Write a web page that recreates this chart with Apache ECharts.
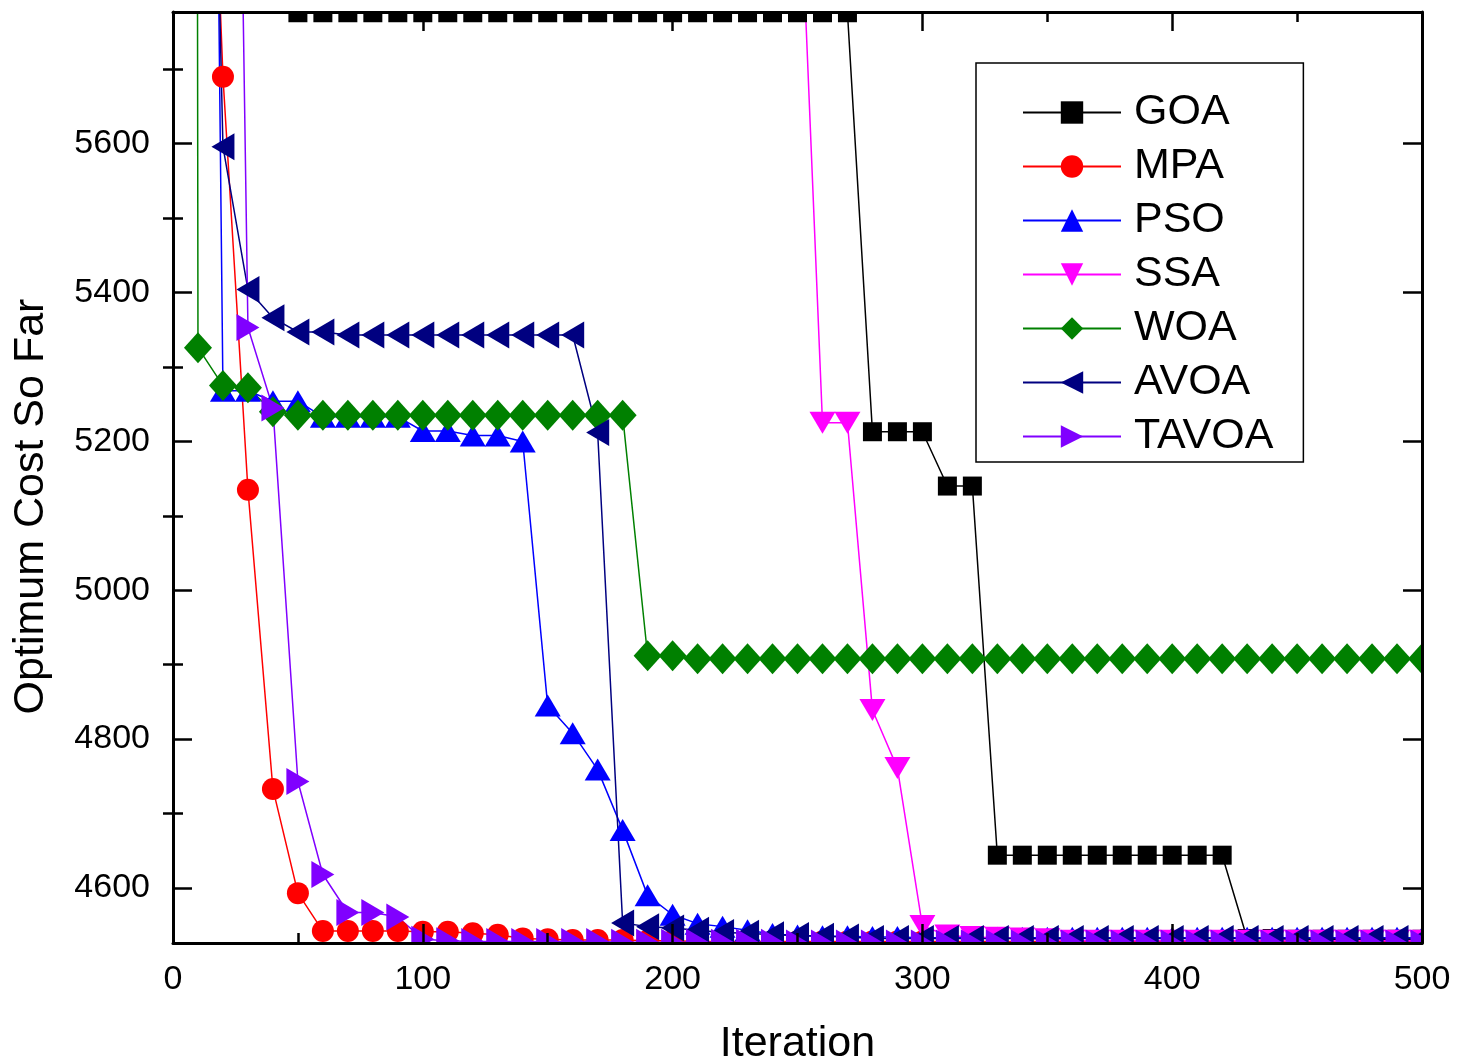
<!DOCTYPE html>
<html>
<head>
<meta charset="utf-8">
<script src="https://cdn.jsdelivr.net/npm/echarts@6/dist/echarts.min.js"></script>
<style>
  html, body { margin: 0; padding: 0; background: #fff; width: 1469px; height: 1064px; overflow: hidden; }
  #chart { width: 1469px; height: 1064px; display: block; }
</style>
</head>
<body>
<div id="chart"></div>
<script>
// Best cost found so far, sampled every 10 iterations ('null' = above the plotted range, not recorded)
const iterations = [0, 10, 20, 30, 40, 50, 60, 70, 80, 90, 100, 110, 120, 130, 140, 150, 160, 170, 180, 190, 200,
  210, 220, 230, 240, 250, 260, 270, 280, 290, 300, 310, 320, 330, 340, 350, 360, 370, 380, 390, 400,
  410, 420, 430, 440, 450, 460, 470, 480, 490, 500];

const goa = [null, null, null, null, null,
  5776, 5776, 5776, 5776, 5776, 5776, 5776, 5776, 5776, 5776, 5776, 5776, 5776, 5776, 5776, 5776, 5776, 5776, 5776, 5776, 5776, 5776, 5776,
  5213, 5213, 5213, 5140, 5140,
  4644, 4644, 4644, 4644, 4644, 4644, 4644, 4644, 4644, 4644,
  4532, 4532, 4531, 4531, 4531, 4531, 4531, 4531];

const mpa = [null, 6560, 5690, 5135, 4733, 4593, 4542, 4542, 4542, 4542, 4541, 4541, 4539, 4537, 4532, 4531, 4530, 4530, 4530, 4529, 4529,
  4528, 4528, 4528, 4528, 4528, 4528, 4528, 4528, 4528, 4528, 4528, 4528, 4528, 4528, 4528, 4528, 4528, 4528, 4528, 4528,
  4528, 4528, 4528, 4528, 4528, 4528, 4528, 4528, 4528, 4528];

const pso = [null, 8400, 5268, 5268, 5254, 5254, 5233, 5233, 5233, 5233, 5214, 5214, 5208, 5208, 5200, 4845, 4808, 4759, 4678, 4590, 4564,
  4552, 4548, 4543, 4538, 4536, 4535, 4535, 4534, 4534, 4533, 4533, 4533, 4533, 4533, 4533, 4533, 4533, 4533, 4533, 4533,
  4533, 4533, 4533, 4533, 4533, 4533, 4533, 4533, 4533, 4533];

const ssa = [null, null, null, null, null, null, null, null, null, null, null, null, null, null, null, null, null, null, null, null, null,
  null, null, null, null, 6040, 5225, 5225, 4839, 4761, 4549, 4536, 4534, 4533, 4532, 4531, 4529, 4529, 4529, 4529, 4529,
  4529, 4529, 4529, 4529, 4529, 4529, 4529, 4529, 4529, 4529];

const woa = [30000, 5326, 5275, 5272, 5240, 5235, 5235, 5235, 5235, 5235, 5235, 5235, 5235, 5235, 5235, 5235, 5235, 5235, 5235, 4912, 4912,
  4908, 4908, 4908, 4908, 4908, 4908, 4908, 4908, 4908, 4908, 4908, 4908, 4908, 4908, 4908, 4908, 4908, 4908, 4908, 4908,
  4908, 4908, 4908, 4908, 4908, 4908, 4908, 4908, 4908, 4908];

const avoa = [null, 7040, 5596, 5404, 5366, 5347, 5347, 5343, 5343, 5343, 5343, 5343, 5343, 5343, 5343, 5343, 5343, 5212, 4553, 4548, 4546,
  4543, 4540, 4539, 4537, 4536, 4535, 4534, 4532, 4532, 4532, 4532, 4532, 4532, 4532, 4532, 4532, 4532, 4532, 4532, 4532,
  4532, 4532, 4532, 4532, 4532, 4532, 4532, 4532, 4532, 4532];

const tavoa = [null, null, 7580, 5353, 5245, 4743, 4618, 4567, 4567, 4561, 4531, 4529, 4528, 4528, 4528, 4528, 4528, 4528, 4527, 4527, 4527,
  4527, 4527, 4527, 4527, 4526, 4526, 4526, 4526, 4526, 4526, 4526, 4526, 4526, 4526, 4526, 4526, 4526, 4526, 4526, 4526,
  4526, 4526, 4526, 4526, 4526, 4526, 4526, 4526, 4526, 4526];

const xTickLabels = [0, 100, 200, 300, 400, 500];
const yTickLabels = [4600, 4800, 5000, 5200, 5400, 5600];
const yMinorTicks = [4700, 4900, 5100, 5300, 5500, 5700];

const FONT = '"Liberation Sans", Arial, sans-serif';
const Y_MIN = 4526, Y_MAX = 5777;

function pairs(values) {
  return iterations.map((it, i) => [it, values[i] == null ? '-' : values[i]]);
}

const seriesDefs = [
  { name: 'GOA',   values: goa,   color: '#000000', symbol: 'rect',     size: [19, 19], rotate: 0 },
  { name: 'MPA',   values: mpa,   color: '#FF0000', symbol: 'circle',   size: 22,       rotate: 0 },
  { name: 'PSO',   values: pso,   color: '#0000FF', symbol: 'triangle', size: [26, 22], rotate: 0 },
  { name: 'SSA',   values: ssa,   color: '#FF00FF', symbol: 'triangle', size: [26, 22], rotate: 180 },
  { name: 'WOA',   values: woa,   color: '#008000', symbol: 'diamond',  size: [28, 31], rotate: 0 },
  { name: 'AVOA',  values: avoa,  color: '#000080', symbol: 'triangle', size: [27, 23], rotate: 90 },
  { name: 'TAVOA', values: tavoa, color: '#8000FF', symbol: 'triangle', size: [27, 23], rotate: -90 }
];

const axisLineStyle = { show: true, onZero: false, lineStyle: { color: '#000', width: 3 } };
const majorTick = { show: true, inside: true, length: 19, lineStyle: { color: '#000', width: 2.5 } };
const minorTick = { show: true, splitNumber: 2, length: 10, lineStyle: { color: '#000', width: 2.5 } };
const plainNumber = v => String(v);

const chart = echarts.init(document.getElementById('chart'), null, { renderer: 'canvas', width: 1469, height: 1064 });

chart.setOption({
  animation: false,
  backgroundColor: '#fff',
  grid: { left: 173, right: 47, top: 12, bottom: 121, containLabel: false, outerBoundsMode: 'none' },
  legend: {
    orient: 'vertical',
    left: 976,
    top: 63,
    padding: [28, 30, 4, 46],
    itemWidth: 98,
    itemHeight: 28,
    itemGap: 11,
    backgroundColor: '#fff',
    borderColor: '#000',
    borderWidth: 1.5,
    borderRadius: 0,
    textStyle: { fontFamily: FONT, fontSize: 43, lineHeight: 42, color: '#000', padding: [0, 0, 0, 8] },
    data: seriesDefs.map(s => s.name)
  },
  xAxis: [
    {
      type: 'value', position: 'bottom', min: 0, max: 500, interval: 100, z: 60,
      name: 'Iteration', nameLocation: 'middle', nameGap: 80,
      nameTextStyle: { fontFamily: FONT, fontSize: 43, color: '#000' },
      axisLine: axisLineStyle, axisTick: majorTick, minorTick: minorTick,
      axisLabel: {
        fontFamily: FONT, fontSize: 34, color: '#000', margin: 20,
        customValues: xTickLabels, formatter: plainNumber
      },
      splitLine: { show: false }, minorSplitLine: { show: false }
    },
    {
      type: 'value', position: 'top', min: 0, max: 500, interval: 100, z: 60,
      axisLine: axisLineStyle, axisTick: majorTick, minorTick: minorTick,
      axisLabel: { show: false }, splitLine: { show: false }
    }
  ],
  yAxis: [
    {
      type: 'value', position: 'left', min: Y_MIN, max: Y_MAX, z: 60,
      name: 'Optimum Cost So Far', nameLocation: 'middle', nameGap: 120, nameRotate: 90,
      nameTextStyle: { fontFamily: FONT, fontSize: 43, color: '#000', padding: [0, 58, 0, 0] },
      axisLine: axisLineStyle,
      axisTick: Object.assign({}, majorTick, { customValues: yTickLabels }),
      axisLabel: { fontFamily: FONT, fontSize: 34, color: '#000', margin: 23, customValues: yTickLabels, formatter: plainNumber },
      splitLine: { show: false }
    },
    {
      type: 'value', position: 'right', min: Y_MIN, max: Y_MAX, z: 60,
      axisLine: axisLineStyle,
      axisTick: Object.assign({}, majorTick, { customValues: yTickLabels }),
      axisLabel: { show: false }, splitLine: { show: false }
    },
    {
      type: 'value', position: 'left', min: Y_MIN, max: Y_MAX, z: 60,
      axisLine: { show: false },
      axisTick: { show: true, inside: true, length: 10, lineStyle: { color: '#000', width: 2.5 }, customValues: yMinorTicks },
      axisLabel: { show: false }, splitLine: { show: false }
    },
    {
      type: 'value', position: 'right', min: Y_MIN, max: Y_MAX, z: 60,
      axisLine: { show: false },
      axisTick: { show: true, inside: true, length: 10, lineStyle: { color: '#000', width: 2.5 }, customValues: yMinorTicks },
      axisLabel: { show: false }, splitLine: { show: false }
    }
  ],
  // white bands outside the plot frame so markers are cut at the frame edge
  graphic: [
    { type: 'rect', z: 50, silent: true, shape: { x: 150, y: 0, width: 1319, height: 12 }, style: { fill: '#fff' } },
    { type: 'rect', z: 50, silent: true, shape: { x: 150, y: 943, width: 1319, height: 16 }, style: { fill: '#fff' } },
    { type: 'rect', z: 50, silent: true, shape: { x: 1422, y: 0, width: 47, height: 959 }, style: { fill: '#fff' } }
  ],
  series: seriesDefs.map(s => ({
    name: s.name,
    type: 'line',
    xAxisIndex: 0,
    yAxisIndex: 0,
    data: pairs(s.values),
    symbol: s.symbol,
    symbolSize: s.size,
    symbolRotate: s.rotate,
    showSymbol: true,
    clip: true,
    connectNulls: false,
    lineStyle: { color: s.color, width: 1.5 },
    itemStyle: { color: s.color, borderWidth: 0 },
    emphasis: { disabled: true }
  }))
});
</script>
</body>
</html>
